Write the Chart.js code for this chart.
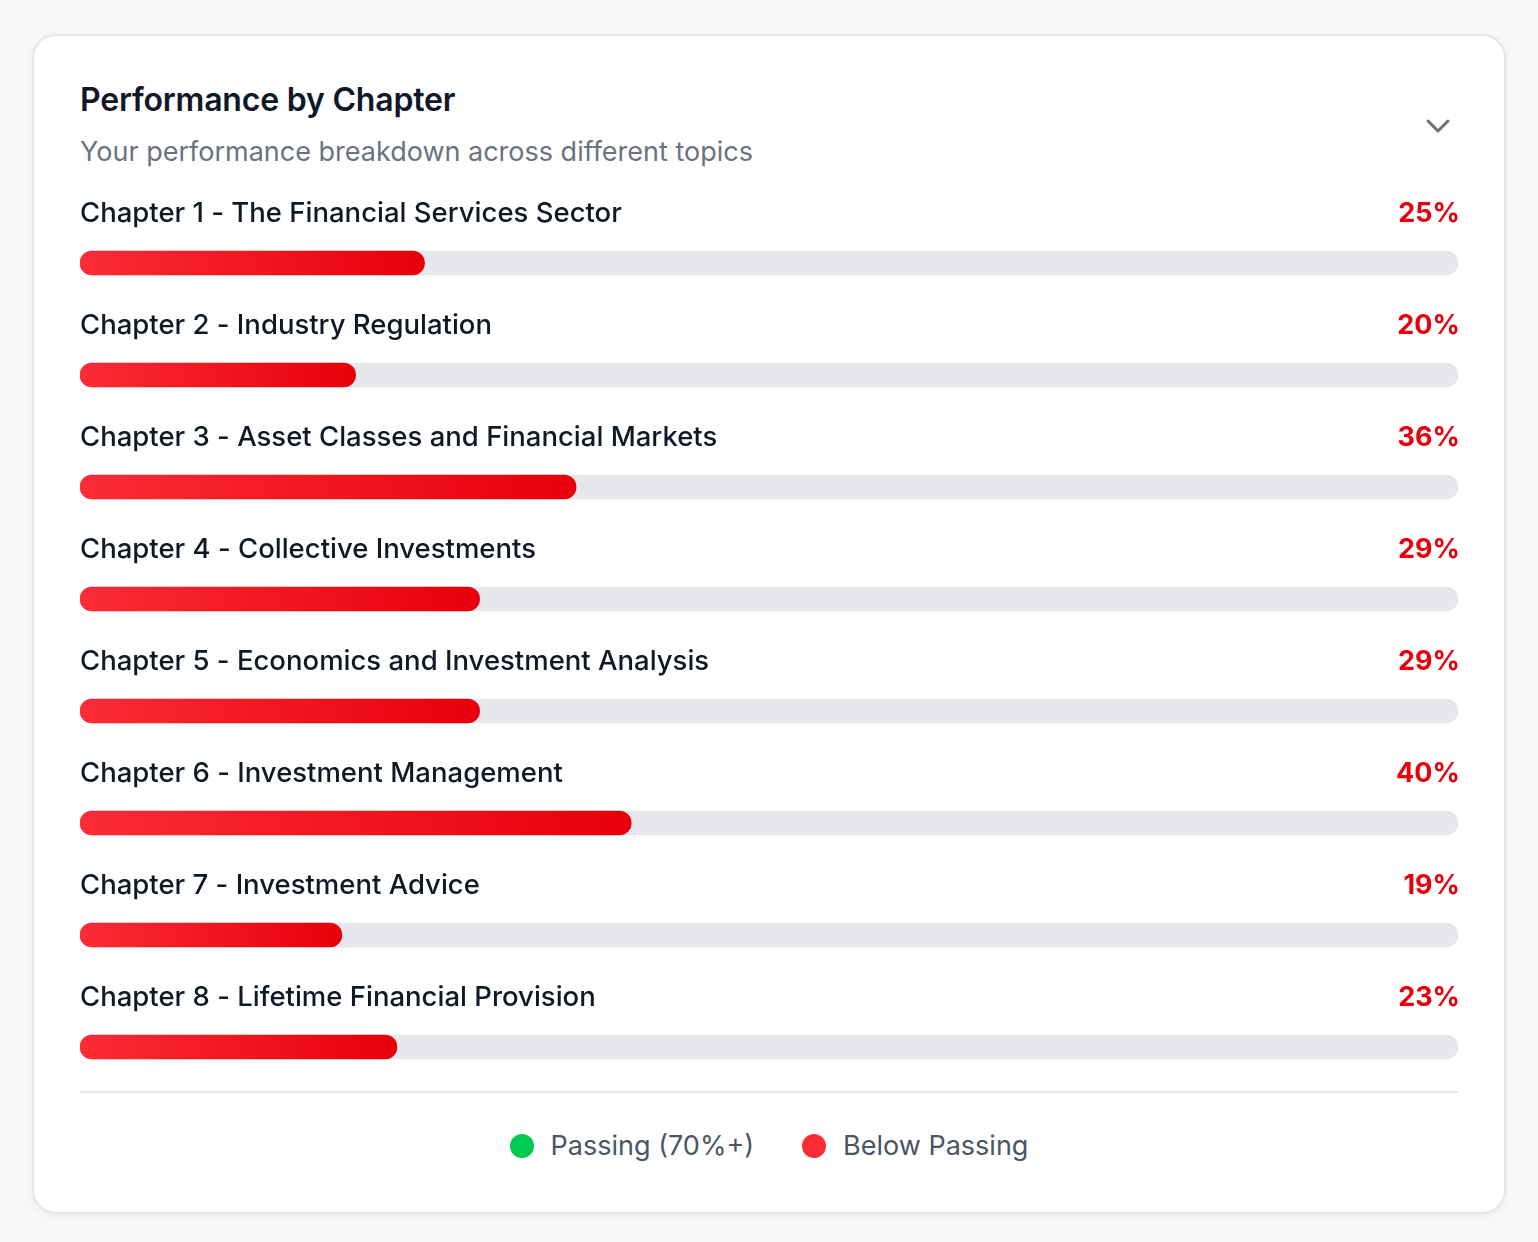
<!DOCTYPE html>
<html>
<head>
<meta charset="utf-8">
<script src="https://cdn.jsdelivr.net/npm/chart.js@4.4.1/dist/chart.umd.min.js"></script>
<style>
  html, body { margin: 0; padding: 0; background: #f7f8fa; font-family: Inter, "Noto Sans", sans-serif; }
  .card {
    position: absolute; left: 32px; top: 34px; width: 1470px; height: 1176px;
    background: #fff; border: 2px solid #e5e7eb; border-radius: 24px;
    box-shadow: 0 2px 6px rgba(0,0,0,0.06);
  }
  .title { position: absolute; left: 46px; top: 44px; font-size: 32px; font-weight: 600; color: #101828; letter-spacing: -0.2px; }
  .sub { position: absolute; left: 46px; top: 99px; font-size: 27px; color: #6a7282; }
  .chev { position: absolute; left: 1388px; top: 79px; }
  .chart-wrap { position: absolute; left: 46px; top: 144px; width: 1378px; height: 923px; }
  .divider { position: absolute; left: 46px; top: 1055px; width: 1378px; height: 2px; background: #e5e7eb; }
  .legend { position: absolute; left: 0; right: 0; top: 1093px; display: flex; justify-content: center; gap: 48px; font-size: 27px; color: #4a5565; }
  .legend span { display: inline-flex; align-items: center; gap: 17px; }
  .dot { width: 24px; height: 24px; border-radius: 50%; display: inline-block; }
</style>
</head>
<body>
<div class="card">
  <div class="title">Performance by Chapter</div>
  <div class="sub">Your performance breakdown across different topics</div>
  <svg class="chev" width="32" height="24" viewBox="0 0 32 24"><polyline points="6,6 16,16 26,6" fill="none" stroke="#6a7282" stroke-width="3" stroke-linecap="round" stroke-linejoin="round"/></svg>
  <div class="chart-wrap"><canvas id="chart"></canvas></div>
  <div class="divider"></div>
  <div class="legend">
    <span><i class="dot" style="background:#00c950"></i>Passing (70%+)</span>
    <span><i class="dot" style="background:#fb2c36"></i>Below Passing</span>
  </div>
</div>
<script>
const chapters = [
  'Chapter 1 - The Financial Services Sector',
  'Chapter 2 - Industry Regulation',
  'Chapter 3 - Asset Classes and Financial Markets',
  'Chapter 4 - Collective Investments',
  'Chapter 5 - Economics and Investment Analysis',
  'Chapter 6 - Investment Management',
  'Chapter 7 - Investment Advice',
  'Chapter 8 - Lifetime Financial Provision'
];
const scores = [25, 20, 36, 29, 29, 40, 19, 23];
const track = [100, 100, 100, 100, 100, 100, 100, 100];
const PASS = 70;

function barFill(ctx) {
  const chart = ctx.chart;
  const area = chart.chartArea;
  if (!area) return '#fb2c36';
  const x = chart.scales.x;
  const end = x.getPixelForValue(scores[ctx.dataIndex]);
  const g = chart.ctx.createLinearGradient(area.left, 0, Math.max(end, area.left + 1), 0);
  if (scores[ctx.dataIndex] >= PASS) {
    g.addColorStop(0, '#05df72');
    g.addColorStop(1, '#00a63e');
  } else {
    g.addColorStop(0, '#fb2c36');
    g.addColorStop(1, '#e7000b');
  }
  return g;
}

const rowLabels = {
  id: 'rowLabels',
  afterDatasetsDraw(chart) {
    const c = chart.ctx;
    const y = chart.scales.y;
    const area = chart.chartArea;
    c.save();
    c.textBaseline = 'middle';
    chapters.forEach((name, i) => {
      const yc = y.getPixelForValue(i) - 49;
      c.font = '500 27.5px Inter, "Noto Sans", sans-serif';
      c.fillStyle = '#101828';
      c.textAlign = 'left';
      c.fillText(name, area.left, yc);
      c.font = '700 27px Inter, "Noto Sans", sans-serif';
      c.fillStyle = scores[i] >= PASS ? '#00a63e' : '#e7000b';
      c.textAlign = 'right';
      c.fillText(scores[i] + '%', area.right + 2, yc);
    });
    c.restore();
  }
};

new Chart(document.getElementById('chart'), {
  type: 'bar',
  data: {
    labels: chapters,
    datasets: [
      {
        data: scores,
        backgroundColor: barFill,
        barThickness: 24,
        borderRadius: 12,
        borderSkipped: false,
        grouped: false,
        order: 0
      },
      {
        data: track,
        backgroundColor: '#e5e7eb',
        barThickness: 24,
        borderRadius: 12,
        borderSkipped: false,
        grouped: false,
        order: 1
      }
    ]
  },
  plugins: [rowLabels],
  options: {
    indexAxis: 'y',
    responsive: true,
    maintainAspectRatio: false,
    animation: false,
    layout: { padding: { top: 27, left: 0, right: 0, bottom: 0 } },
    scales: {
      x: { display: false, min: 0, max: 100 },
      y: { display: false }
    },
    plugins: {
      legend: { display: false },
      tooltip: { enabled: false }
    }
  }
});
</script>
</body>
</html>
